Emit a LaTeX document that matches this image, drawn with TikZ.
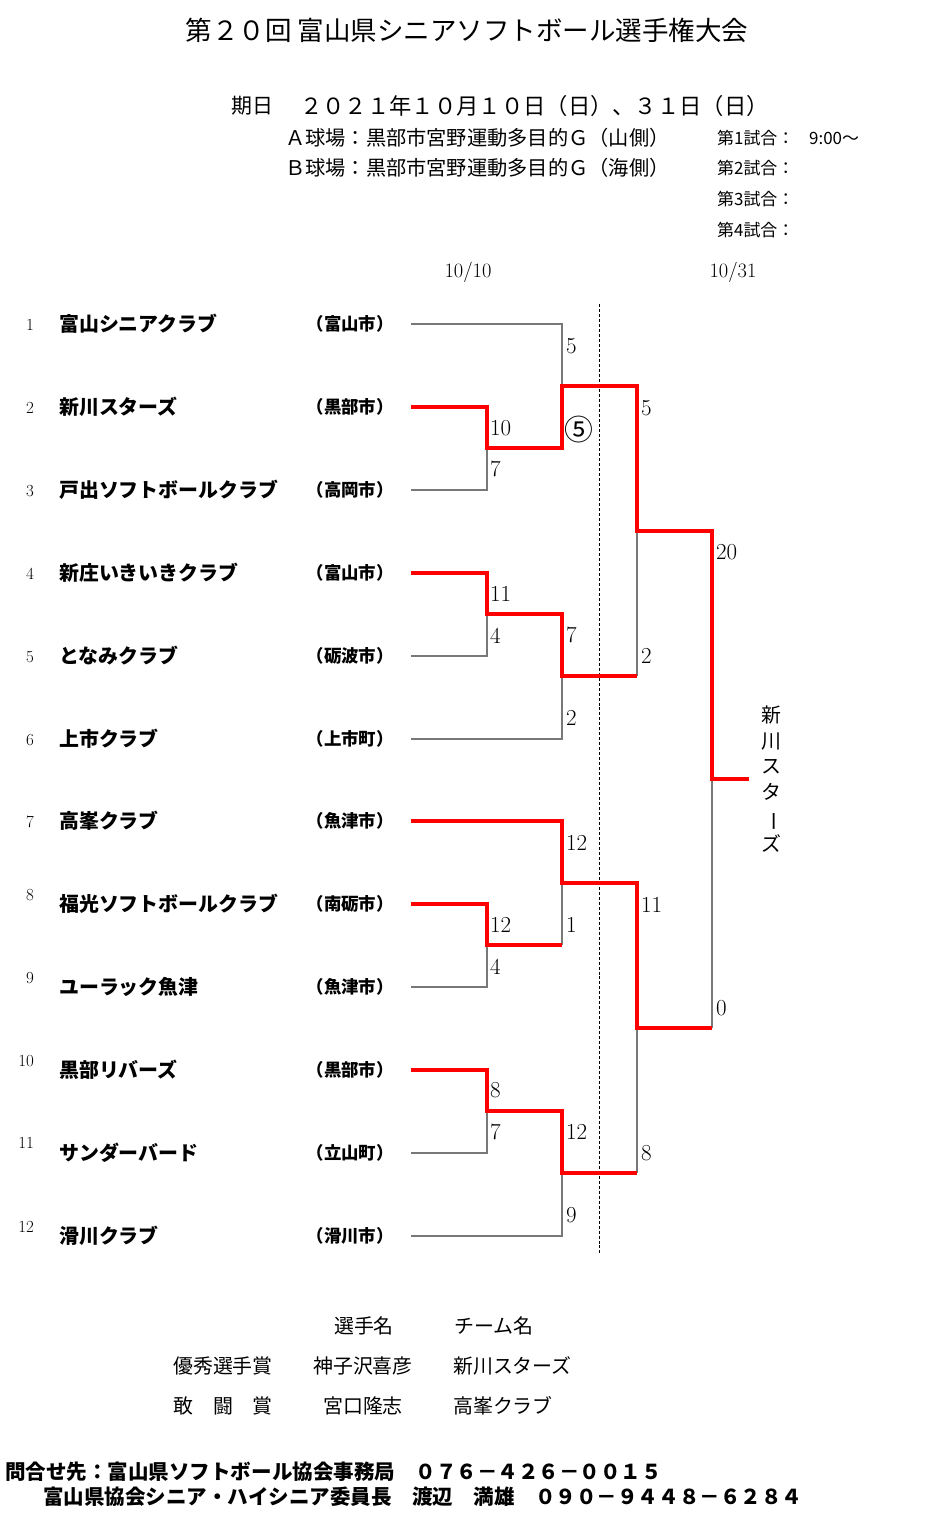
\documentclass[tikz,border=0pt]{standalone}
\usepackage{fontspec}
\usepackage{graphicx}
\newfontfamily\jp{Noto Sans CJK JP}
\definecolor{winred}{RGB}{255,0,0}
\definecolor{linegray}{RGB}{120,120,120}
\tikzset{
	base/.style={draw=linegray, line width=1.2bp},
	win/.style={draw=winred, line width=3.2bp, line join=miter},
	team/.style={anchor=west, inner sep=0, font=\jp\bfseries\fontsize{20}{24}\selectfont},
	city/.style={anchor=east, inner sep=0, font=\jp\bfseries\fontsize{17.5}{20}\selectfont},
	seed/.style={anchor=east, inner sep=0, font=\fontsize{17}{20}\selectfont},
	score/.style={anchor=west, inner sep=0, font=\fontsize{23}{26}\selectfont},
	info/.style={anchor=west, inner sep=0, font=\jp\fontsize{20.3}{24}\selectfont},
	award/.style={anchor=west, inner sep=0, font=\jp\fontsize{20}{24}\selectfont},
	contact/.style={anchor=west, inner sep=0, font=\jp\bfseries\fontsize{20.6}{24}\selectfont}
}
\begin{document}
\begin{tikzpicture}[x=1bp, y=-1bp]
	\useasboundingbox (0, 0) rectangle (940, 1529);
	% heading
	\node[inner sep=0, font=\jp\fontsize{26.6}{30}\selectfont] at (467, 30) (title) {第２０回 富山県シニアソフトボール選手権大会};
	\node[info, font=\jp\fontsize{21}{24}\selectfont] at (231, 106) (daylabel) {期日};
	\node[info, font=\jp\fontsize{22.4}{24}\selectfont] at (300, 106) (days) {２０２１年１０月１０日（日）、３１日（日）};
	\node[info] at (285, 138) (fielda) {Ａ球場：黒部市宮野運動多目的Ｇ（山側）};
	\node[info] at (285, 168) (fieldb) {Ｂ球場：黒部市宮野運動多目的Ｇ（海側）};
	\node[info, font=\jp\fontsize{17}{20}\selectfont] at (717, 138) (game1) {第1試合：};
	\node[info, font=\jp\fontsize{17}{20}\selectfont] at (809, 138) (time1) {9:00〜};
	\node[info, font=\jp\fontsize{17}{20}\selectfont] at (717, 168) (game2) {第2試合：};
	\node[info, font=\jp\fontsize{17}{20}\selectfont] at (717, 199) (game3) {第3試合：};
	\node[info, font=\jp\fontsize{17}{20}\selectfont] at (717, 230) (game4) {第4試合：};
	\node[inner sep=0, font=\fontsize{20.5}{24}\selectfont] at (468, 272) (day1) {10/10};
	\node[inner sep=0, font=\fontsize{20.5}{24}\selectfont] at (733, 272) (day2) {10/31};
	% teams
	\node[seed] at (34, 325)  (s1)  {1};
	\node[seed] at (34, 408)  (s2)  {2};
	\node[seed] at (34, 491)  (s3)  {3};
	\node[seed] at (34, 574)  (s4)  {4};
	\node[seed] at (34, 657)  (s5)  {5};
	\node[seed] at (34, 740)  (s6)  {6};
	\node[seed] at (34, 822)  (s7)  {7};
	\node[seed] at (34, 895)  (s8)  {8};
	\node[seed] at (34, 978)  (s9)  {9};
	\node[seed] at (34, 1061) (s10) {10};
	\node[seed] at (34, 1143) (s11) {11};
	\node[seed] at (34, 1227) (s12) {12};
	\node[team] at (59, 324)  (t1)  {富山シニアクラブ};
	\node[team] at (59, 407)  (t2)  {新川スターズ};
	\node[team] at (59, 490)  (t3)  {戸出ソフトボールクラブ};
	\node[team] at (59, 573)  (t4)  {新庄いきいきクラブ};
	\node[team] at (59, 656)  (t5)  {となみクラブ};
	\node[team] at (59, 739)  (t6)  {上市クラブ};
	\node[team] at (59, 821)  (t7)  {高峯クラブ};
	\node[team] at (59, 904)  (t8)  {福光ソフトボールクラブ};
	\node[team] at (59, 987)  (t9)  {ユーラック魚津};
	\node[team] at (59, 1070) (t10) {黒部リバーズ};
	\node[team] at (59, 1153) (t11) {サンダーバード};
	\node[team] at (59, 1236) (t12) {滑川クラブ};
	\node[city] at (394, 324)  (c1)  {（富山市）};
	\node[city] at (394, 407)  (c2)  {（黒部市）};
	\node[city] at (394, 490)  (c3)  {（高岡市）};
	\node[city] at (394, 573)  (c4)  {（富山市）};
	\node[city] at (394, 656)  (c5)  {（砺波市）};
	\node[city] at (394, 739)  (c6)  {（上市町）};
	\node[city] at (394, 821)  (c7)  {（魚津市）};
	\node[city] at (394, 904)  (c8)  {（南砺市）};
	\node[city] at (394, 987)  (c9)  {（魚津市）};
	\node[city] at (394, 1070) (c10) {（黒部市）};
	\node[city] at (394, 1153) (c11) {（立山町）};
	\node[city] at (394, 1236) (c12) {（滑川市）};
	% bracket
	\draw[black, line width=0.6bp, densely dashed] (599, 304) -- (599, 1255);
	\draw[base] (411, 324) -- (562, 324) -- (562, 448);
	\draw[base] (411, 407) -- (487, 407) -- (487, 490) -- (411, 490);
	\draw[base] (487, 448) -- (562, 448);
	\draw[base] (562, 386) -- (637, 386);
	\draw[base] (411, 573) -- (487, 573) -- (487, 656) -- (411, 656);
	\draw[base] (487, 614) -- (562, 614);
	\draw[base] (411, 739) -- (562, 739) -- (562, 614);
	\draw[base] (562, 676) -- (637, 676);
	\draw[base] (637, 386) -- (637, 676);
	\draw[base] (637, 531) -- (712, 531);
	%
	\draw[base] (411, 821) -- (562, 821) -- (562, 945);
	\draw[base] (411, 904) -- (487, 904) -- (487, 987) -- (411, 987);
	\draw[base] (487, 945) -- (562, 945);
	\draw[base] (562, 883) -- (637, 883);
	\draw[base] (411, 1070) -- (487, 1070) -- (487, 1153) -- (411, 1153);
	\draw[base] (487, 1111) -- (562, 1111);
	\draw[base] (411, 1236) -- (562, 1236) -- (562, 1111);
	\draw[base] (562, 1173) -- (637, 1173);
	\draw[base] (637, 883) -- (637, 1173);
	\draw[base] (637, 1028) -- (712, 1028);
	\draw[base] (712, 531) -- (712, 1028);
	% winners
	\draw[win] (411, 407) -- (487, 407) -- (487, 448) -- (562, 448) -- (562, 386) -- (637, 386) -- (637, 531) -- (712, 531) -- (712, 779) -- (749, 779);
	\draw[win] (411, 573) -- (487, 573) -- (487, 614) -- (562, 614) -- (562, 676) -- (637, 676);
	\draw[win] (411, 821) -- (562, 821) -- (562, 883) -- (637, 883) -- (637, 1028) -- (712, 1028);
	\draw[win] (411, 904) -- (487, 904) -- (487, 945) -- (562, 945);
	\draw[win] (411, 1070) -- (487, 1070) -- (487, 1111) -- (562, 1111) -- (562, 1173) -- (637, 1173);
	% scores
	\node[score] at (490, 428)  (r1a) {10};
	\node[score] at (490, 469)  (r1b) {7};
	\node[score] at (490, 594)  (r1c) {11};
	\node[score] at (490, 636)  (r1d) {4};
	\node[score] at (490, 925)  (r1e) {12};
	\node[score] at (490, 967)  (r1f) {4};
	\node[score] at (490, 1090) (r1g) {8};
	\node[score] at (490, 1132) (r1h) {7};
	\node[score] at (566, 346)  (r2a) {5};
	\node[score, font=\jp\fontsize{29}{30}\selectfont] at (564, 430) (r2b) {⑤};
	\node[score] at (566, 635)  (r2c) {7};
	\node[score] at (566, 718)  (r2d) {2};
	\node[score] at (566, 843)  (r2e) {12};
	\node[score] at (566, 925)  (r2f) {1};
	\node[score] at (566, 1132) (r2g) {12};
	\node[score] at (566, 1215) (r2h) {9};
	\node[score] at (641, 408)  (r3a) {5};
	\node[score] at (641, 656)  (r3b) {2};
	\node[score] at (641, 905)  (r3c) {11};
	\node[score] at (641, 1153) (r3d) {8};
	\node[score] at (716, 552)  (r4a) {20};
	\node[score] at (716, 1008) (r4b) {0};
	\node[inner sep=0, align=center, font=\jp\fontsize{20}{26}\selectfont] at (771, 779) (champ) {新\\川\\ス\\タ\\\rotatebox[origin=c]{-90}{ー}\\ズ};
	% awards
	\node[award, anchor=center] at (364, 1326) (hplayer) {選手名};
	\node[award, anchor=center] at (494, 1326) (hteam) {チーム名};
	\node[award] at (173, 1366) (aw1) {優秀選手賞};
	\node[award] at (313, 1366) (pl1) {神子沢喜彦};
	\node[award] at (453, 1366) (tm1) {新川スターズ};
	\node[award] at (173, 1406) (aw2) {敢　闘　賞};
	\node[award] at (323, 1406) (pl2) {宮口隆志};
	\node[award] at (453, 1406) (tm2) {高峯クラブ};
	% contact
	\node[contact] at (5, 1472)  (ct1) {問合せ先：富山県ソフトボール協会事務局　０７６－４２６－００１５};
	\node[contact] at (43, 1497) (ct2) {富山県協会シニア・ハイシニア委員長　渡辺　満雄　０９０－９４４８－６２８４};
\end{tikzpicture}
\end{document}
